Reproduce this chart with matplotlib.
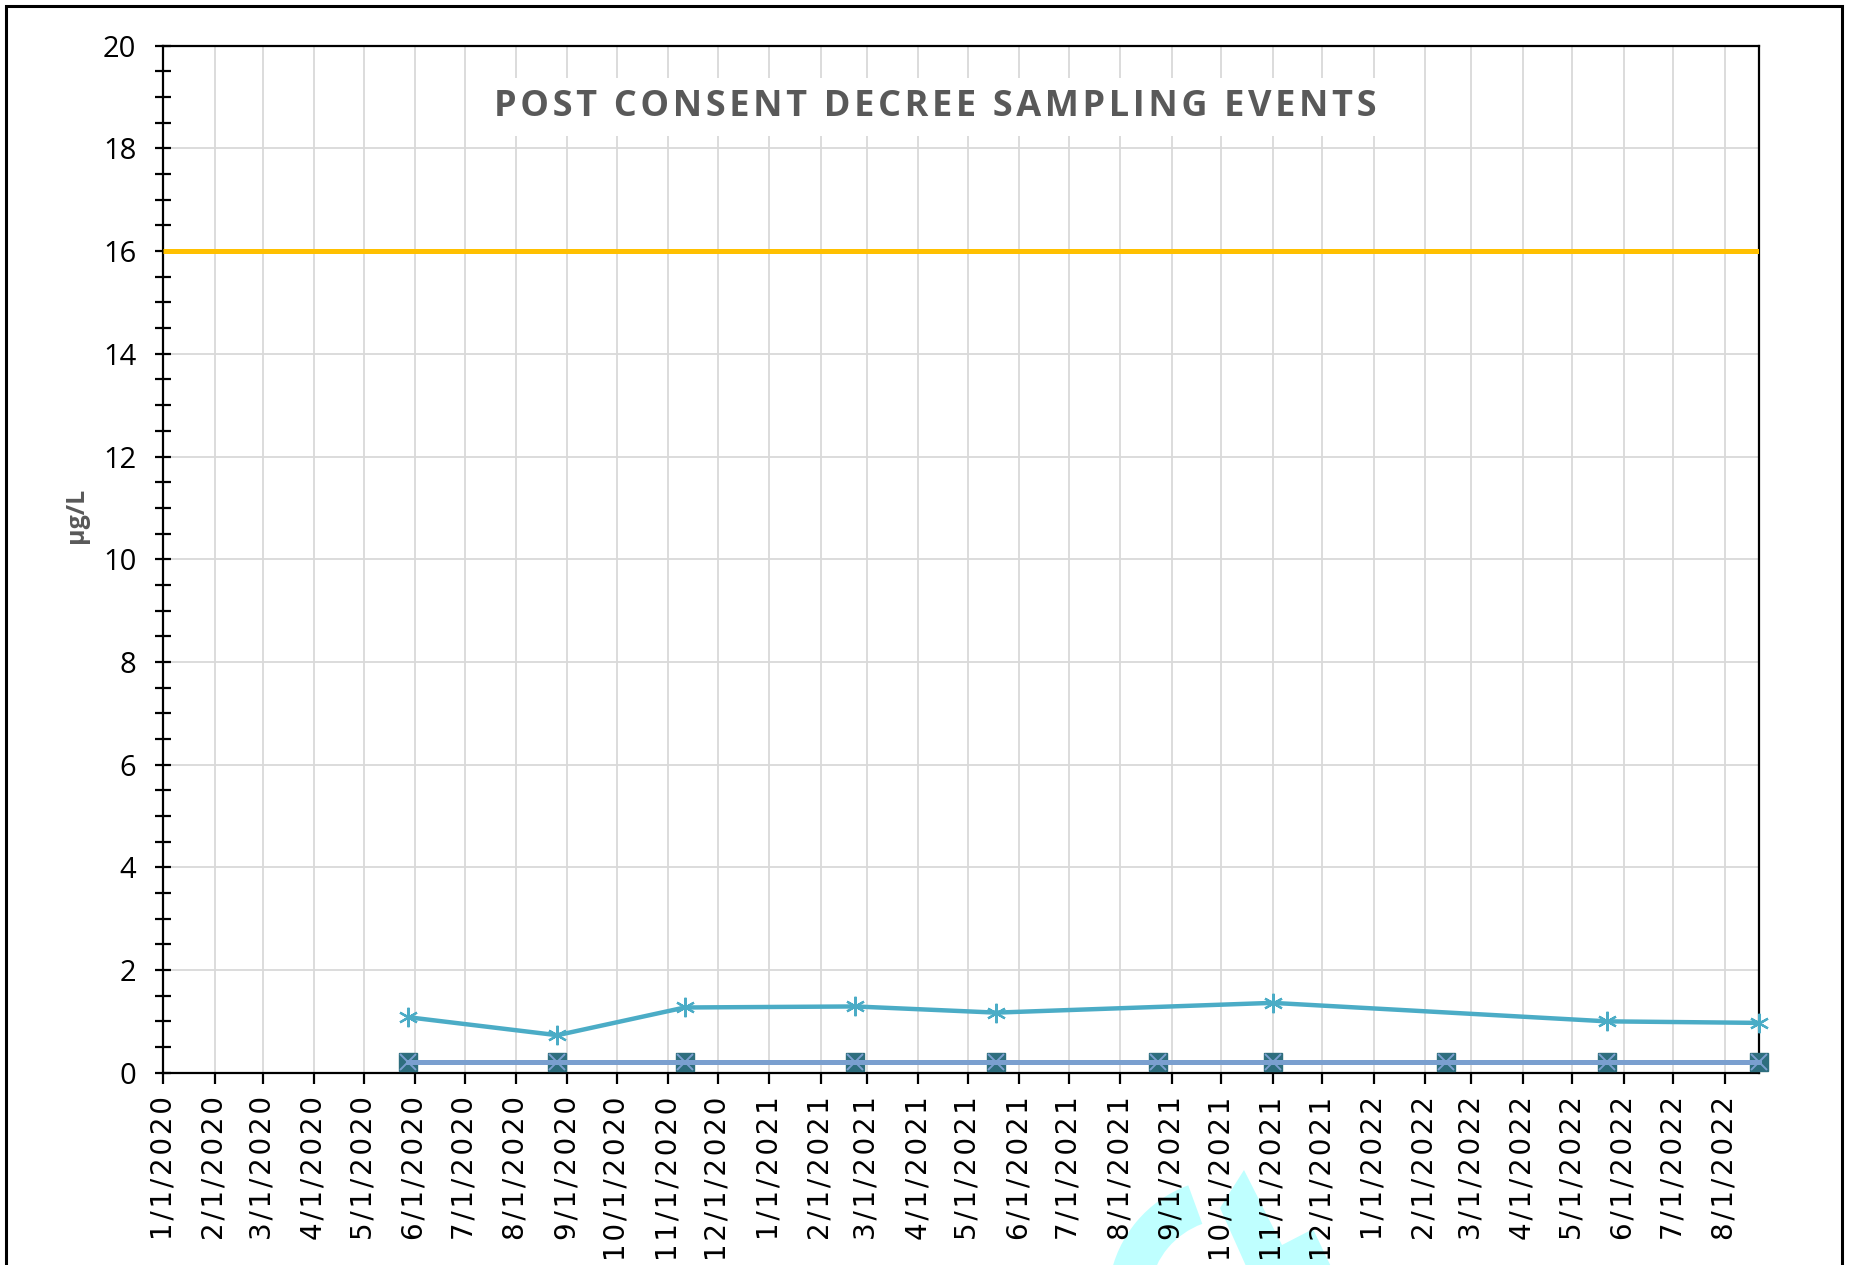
import matplotlib

matplotlib.use("Agg")
import matplotlib.pyplot as plt
import matplotlib.dates as mdates
from matplotlib.patches import Wedge, Polygon, Rectangle
from matplotlib.ticker import MultipleLocator, FuncFormatter
import pandas as pd

# sampling dates / results
sample_dates = ["2020-05-28", "2020-08-26", "2020-11-11", "2021-02-22", "2021-05-18",
                "2021-08-24", "2021-11-01", "2022-02-14", "2022-05-22", "2022-08-22"]
nondetect_vals = [0.2, 0.2, 0.2, 0.2, 0.2, 0.2, 0.2, 0.2, 0.2, 0.2]

detect_dates = ["2020-05-28", "2020-08-26", "2020-11-11", "2021-02-22", "2021-05-18",
                "2021-11-01", "2022-05-22", "2022-08-22"]
detect_vals = [1.08, 0.73, 1.27, 1.29, 1.17, 1.36, 1.00, 0.97]

limit_value = 16.0
x_start, x_end = "2020-01-01", "2022-08-22"

TITLE = "POST CONSENT DECREE SAMPLING EVENTS"
YLABEL = "µg/L"

HAIR = "\u200a"


def spaced(s: str, sep: str = HAIR) -> str:
    return sep.join(s)


W, H = 1853, 1265
fig = plt.figure(figsize=(W / 100, H / 100), dpi=100)
ax = fig.add_axes([163.3 / W, 1 - 1072.7 / H, (1759.3 - 163.3) / W, (1072.7 - 45.7) / H])

sd = pd.to_datetime(sample_dates)
dd = pd.to_datetime(detect_dates)
x0, x1 = pd.Timestamp(x_start), pd.Timestamp(x_end)

ax.plot([x0, x1], [limit_value, limit_value], color="#FFC000", lw=3.6, zorder=3, solid_capstyle="butt")
ax.plot(dd, detect_vals, color="#4BACC6", lw=3.2, marker=(6, 2, 0), ms=14, mew=1.6,
        mec="#4BACC6", zorder=4, clip_on=False)
ax.plot(sd, nondetect_vals, ls="none", marker="s", ms=13, mfc="#2E6E7E", mec="#2E6E7E",
        zorder=5, clip_on=False)
ax.plot(sd, nondetect_vals, color="#7A9FCF", lw=3.6, marker="x", ms=12, mew=1.4,
        mec="#7A9FCF", zorder=6, clip_on=False)

ax.set_xlim(x0, x1)
ax.set_ylim(0, 20)

ax.xaxis.set_major_locator(mdates.MonthLocator())
ax.xaxis.set_major_formatter(FuncFormatter(
    lambda v, pos: (lambda d: spaced(f"{d.month}/{d.day}/{d.year}"))(mdates.num2date(v))))
ax.yaxis.set_major_locator(MultipleLocator(2))
ax.yaxis.set_minor_locator(MultipleLocator(0.5))

ax.grid(True, which="major", color="#D9D9D9", lw=1.3, zorder=0)
ax.set_axisbelow(True)

for s in ax.spines.values():
    s.set_color("black")
    s.set_linewidth(1.6)

ax.tick_params(axis="x", direction="out", length=8, width=1.6, pad=9, labelsize=20,
               labelrotation=90)
ax.tick_params(axis="y", which="major", direction="inout", length=11, width=1.6, pad=14)
ax.tick_params(axis="y", which="minor", direction="inout", length=11, width=1.6)
for lab in ax.get_yticklabels():
    lab.set_fontfamily("Open Sans")
    lab.set_fontsize(21)
for lab in ax.get_xticklabels():
    lab.set_fontfamily("DejaVu Sans")
    lab.set_va("top")

ax.set_ylabel(YLABEL, fontsize=18, fontweight="bold", color="#595959", fontfamily="Open Sans")
ax.yaxis.set_label_coords((89 - 163.3) / (1759.3 - 163.3), 1 - (515 - 45.7) / (1072.7 - 45.7))

ax.text((935 - 163.3) / (1759.3 - 163.3), 1 - (107 - 45.7) / (1072.7 - 45.7), spaced(TITLE),
        transform=ax.transAxes, ha="center", va="center", fontsize=26, fontweight="bold",
        color="#595959", fontfamily=["Open Sans", "DejaVu Sans"], zorder=7,
        bbox=dict(facecolor="white", edgecolor="none", pad=8))

# pixel positions in inches (origin bottom-left) for the decorations
inch = fig.dpi_scale_trans


def px(x, y):
    return (x / 100, (H - y) / 100)


# stray cyan shapes along the bottom edge
arc = Wedge(px(1230, 1300), 1.22, 110, 230, width=0.41, transform=inch,
            facecolor="#BFFFFF", edgecolor="none", zorder=-1)
fig.patches.append(arc)
chev = Polygon([px(1220, 1208), px(1244, 1170), px(1282, 1245), px(1313, 1229),
                px(1335, 1275), px(1250, 1275)], closed=True, transform=inch,
               facecolor="#BFFFFF", edgecolor="none", zorder=-1)
fig.patches.append(chev)

frame = Rectangle(px(6, 1300), (1842 - 6) / 100, (1300 - 6) / 100, transform=inch,
                  fill=False, edgecolor="black", lw=2.2, zorder=10)
fig.patches.append(frame)

fig.savefig("out.png", dpi=100)
